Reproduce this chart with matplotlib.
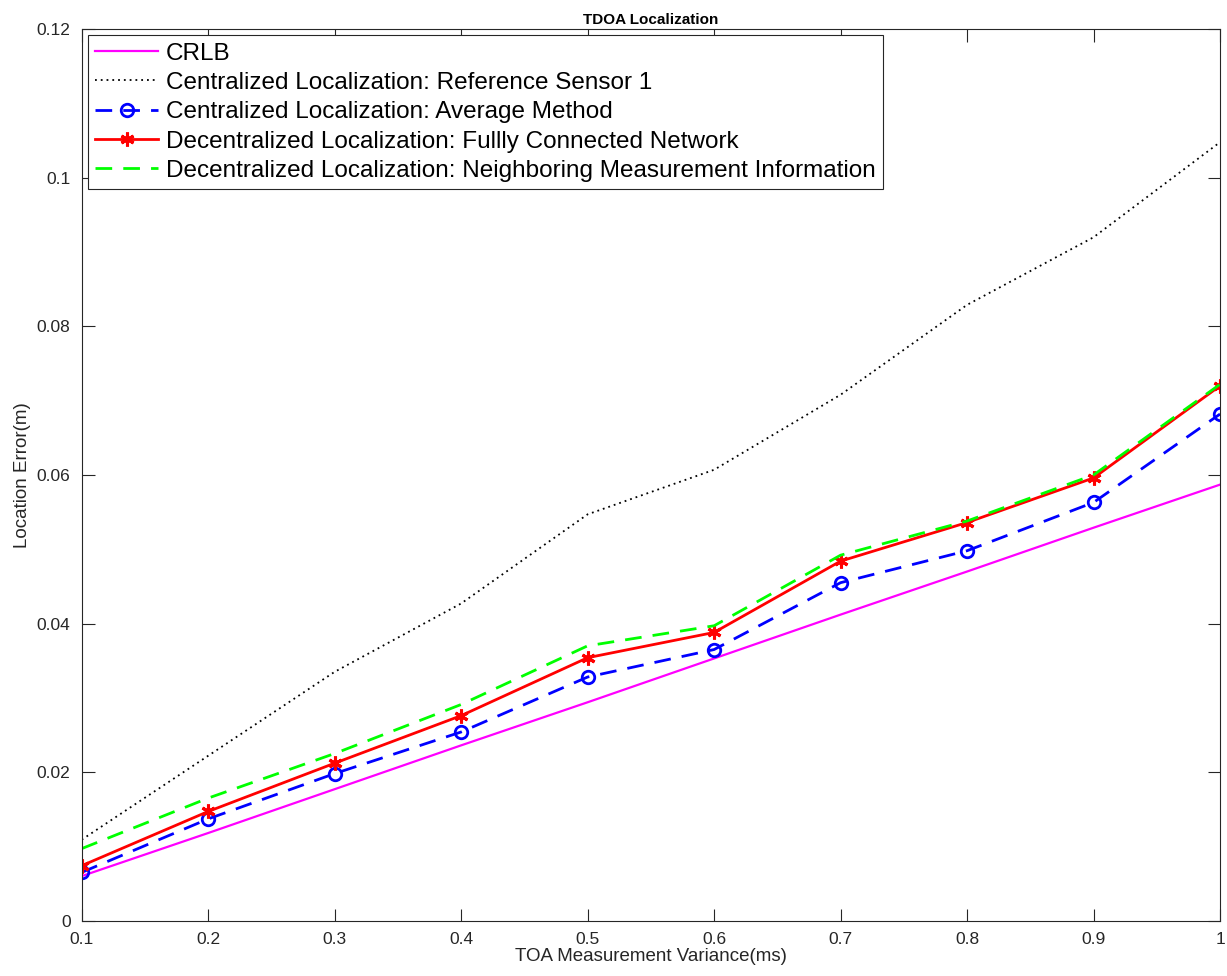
import matplotlib
matplotlib.use("Agg")
import matplotlib.pyplot as plt

plt.rcParams['font.family'] = ['Liberation Sans', 'DejaVu Sans']

x = [0.1, 0.2, 0.3, 0.4, 0.5, 0.6, 0.7, 0.8, 0.9, 1.0]
crlb = [0.0060, 0.0118, 0.0177, 0.0236, 0.0294, 0.0353, 0.0412, 0.0470, 0.0529, 0.0587]
ref1 = [0.0109, 0.0222, 0.0335, 0.0427, 0.0547, 0.0607, 0.0708, 0.0829, 0.0920, 0.1048]
avg = [0.0065, 0.0137, 0.0198, 0.0254, 0.0328, 0.0365, 0.0455, 0.0498, 0.0563, 0.0682]
fully = [0.0074, 0.0147, 0.0212, 0.0276, 0.0354, 0.0388, 0.0484, 0.0536, 0.0596, 0.0720]
neigh = [0.0097, 0.0165, 0.0225, 0.0291, 0.0370, 0.0397, 0.0492, 0.0538, 0.0600, 0.0722]

xticks = [0.1, 0.2, 0.3, 0.4, 0.5, 0.6, 0.7, 0.8, 0.9, 1.0]
xticklabels = ['0.1', '0.2', '0.3', '0.4', '0.5', '0.6', '0.7', '0.8', '0.9', '1']
yticks = [0, 0.02, 0.04, 0.06, 0.08, 0.1, 0.12]
yticklabels = ['0', '0.02', '0.04', '0.06', '0.08', '0.1', '0.12']

fig = plt.figure(figsize=(12.27, 9.76), dpi=100)
ax = fig.add_axes([0.0666, 0.0567, 0.9277, 0.9133])

ax.plot(x, crlb, color='#ff00ff', linewidth=1.6, label='CRLB')
ax.plot(x, ref1, color='black', linestyle=(0, (1, 2.2)), linewidth=1.3,
        label='Centralized Localization: Reference Sensor 1')
ax.plot(x, avg, color='#0000ff', linestyle=(0, (6, 4)), linewidth=2.0,
        marker='o', markersize=9, markerfacecolor='none', markeredgewidth=2.0,
        label='Centralized Localization: Average Method')
ax.plot(x, fully, color='#ff0000', linewidth=2.0, marker=(6, 2, 0), markersize=10,
        markeredgewidth=2.2, label='Decentralized Localization: Fullly Connected Network')
ax.plot(x, neigh, color='#00ff00', linestyle=(0, (6, 4)), linewidth=2.0,
        label='Decentralized Localization: Neighboring Measurement Information')

ax.set_xlim(0.1, 1.0)
ax.set_ylim(0, 0.12)
ax.set_xticks(xticks)
ax.set_xticklabels(xticklabels)
ax.set_yticks(yticks)
ax.set_yticklabels(yticklabels)
ax.tick_params(direction='in', length=9, width=0.8, top=True, right=True,
               labelsize=12.5, colors='#262626', pad=8)
for s in ax.spines.values():
    s.set_color('#262626')
    s.set_linewidth(0.8)

ax.set_xlabel('TOA Measurement Variance(ms)', fontsize=13.5, color='#262626', labelpad=1)
ax.set_ylabel('Location Error(m)', fontsize=13.5, color='#262626', labelpad=4)
ax.set_title('TDOA Localization', fontsize=11, fontweight='bold', pad=4)

leg = ax.legend(loc='upper left', fontsize=17.5, frameon=True, fancybox=False,
                edgecolor='#262626', framealpha=1, handlelength=2.6,
                handletextpad=0.3, labelspacing=0.3, borderpad=0.3,
                borderaxespad=0.25)
leg.get_frame().set_linewidth(0.8)

fig.savefig('out.png', dpi=100)
